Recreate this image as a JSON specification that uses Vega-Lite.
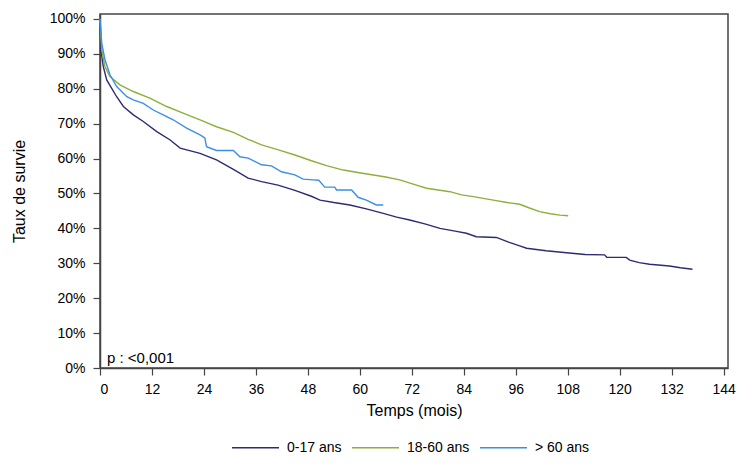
{
  "$schema": "https://vega.github.io/schema/vega-lite/v6.json",
  "width": 628,
  "height": 354,
  "autosize": {"type": "none"},
  "padding": {"left": 100, "top": 14, "right": 17, "bottom": 98},
  "config": {
    "font": "Liberation Sans",
    "view": {"stroke": "#444", "strokeWidth": 1.5},
    "axis": {
      "grid": false,
      "domainColor": "#444",
      "domainWidth": 1.5,
      "tickColor": "#444",
      "tickWidth": 1.2,
      "tickSize": 7,
      "labelFont": "Liberation Sans",
      "labelFontSize": 14,
      "labelOverlap": false,
      "labelColor": "#000",
      "titleFont": "Liberation Sans",
      "titleFontSize": 16,
      "titleFontWeight": "normal",
      "titleColor": "#000"
    }
  },
  "layer": [
    {
      "data": {
        "values": [
          {"t": 0, "s": 100, "g": "0-17 ans"},
          {"t": 0.23, "s": 91.1, "g": "0-17 ans"},
          {"t": 0.76, "s": 86.3, "g": "0-17 ans"},
          {"t": 1.55, "s": 82.5, "g": "0-17 ans"},
          {"t": 2.7, "s": 80.1, "g": "0-17 ans"},
          {"t": 3.85, "s": 77.7, "g": "0-17 ans"},
          {"t": 5.4, "s": 74.9, "g": "0-17 ans"},
          {"t": 7.7, "s": 72.5, "g": "0-17 ans"},
          {"t": 10.0, "s": 70.6, "g": "0-17 ans"},
          {"t": 13.1, "s": 67.7, "g": "0-17 ans"},
          {"t": 16.2, "s": 65.3, "g": "0-17 ans"},
          {"t": 18.5, "s": 63.0, "g": "0-17 ans"},
          {"t": 23.1, "s": 61.5, "g": "0-17 ans"},
          {"t": 26.9, "s": 59.6, "g": "0-17 ans"},
          {"t": 30.8, "s": 56.9, "g": "0-17 ans"},
          {"t": 34.2, "s": 54.4, "g": "0-17 ans"},
          {"t": 37.3, "s": 53.4, "g": "0-17 ans"},
          {"t": 41.1, "s": 52.4, "g": "0-17 ans"},
          {"t": 45.0, "s": 50.9, "g": "0-17 ans"},
          {"t": 48.8, "s": 49.2, "g": "0-17 ans"},
          {"t": 50.8, "s": 48.1, "g": "0-17 ans"},
          {"t": 54.0, "s": 47.4, "g": "0-17 ans"},
          {"t": 57.7, "s": 46.7, "g": "0-17 ans"},
          {"t": 61.5, "s": 45.6, "g": "0-17 ans"},
          {"t": 65.4, "s": 44.3, "g": "0-17 ans"},
          {"t": 68.5, "s": 43.2, "g": "0-17 ans"},
          {"t": 71.5, "s": 42.4, "g": "0-17 ans"},
          {"t": 75.0, "s": 41.3, "g": "0-17 ans"},
          {"t": 78.5, "s": 40.0, "g": "0-17 ans"},
          {"t": 82.0, "s": 39.2, "g": "0-17 ans"},
          {"t": 84.6, "s": 38.6, "g": "0-17 ans"},
          {"t": 86.9, "s": 37.6, "g": "0-17 ans"},
          {"t": 91.5, "s": 37.4, "g": "0-17 ans"},
          {"t": 94.5, "s": 36.0, "g": "0-17 ans"},
          {"t": 96.9, "s": 35.0, "g": "0-17 ans"},
          {"t": 98.5, "s": 34.3, "g": "0-17 ans"},
          {"t": 103.0, "s": 33.6, "g": "0-17 ans"},
          {"t": 107.7, "s": 33.0, "g": "0-17 ans"},
          {"t": 112.0, "s": 32.5, "g": "0-17 ans"},
          {"t": 116.5, "s": 32.4, "g": "0-17 ans"},
          {"t": 117.0, "s": 31.7, "g": "0-17 ans"},
          {"t": 121.5, "s": 31.7, "g": "0-17 ans"},
          {"t": 122.3, "s": 30.9, "g": "0-17 ans"},
          {"t": 124.5, "s": 30.2, "g": "0-17 ans"},
          {"t": 126.9, "s": 29.7, "g": "0-17 ans"},
          {"t": 131.5, "s": 29.2, "g": "0-17 ans"},
          {"t": 134.0, "s": 28.7, "g": "0-17 ans"},
          {"t": 136.8, "s": 28.3, "g": "0-17 ans"},
          {"t": 0, "s": 100, "g": "18-60 ans"},
          {"t": 0.4, "s": 91.1, "g": "18-60 ans"},
          {"t": 1.15, "s": 86.3, "g": "18-60 ans"},
          {"t": 2.3, "s": 83.5, "g": "18-60 ans"},
          {"t": 4.6, "s": 81.1, "g": "18-60 ans"},
          {"t": 7.7, "s": 79.2, "g": "18-60 ans"},
          {"t": 11.5, "s": 77.3, "g": "18-60 ans"},
          {"t": 15.4, "s": 74.9, "g": "18-60 ans"},
          {"t": 19.2, "s": 73.0, "g": "18-60 ans"},
          {"t": 23.1, "s": 71.1, "g": "18-60 ans"},
          {"t": 26.9, "s": 69.1, "g": "18-60 ans"},
          {"t": 30.8, "s": 67.5, "g": "18-60 ans"},
          {"t": 34.2, "s": 65.5, "g": "18-60 ans"},
          {"t": 37.3, "s": 63.9, "g": "18-60 ans"},
          {"t": 41.2, "s": 62.5, "g": "18-60 ans"},
          {"t": 45.0, "s": 61.0, "g": "18-60 ans"},
          {"t": 49.0, "s": 59.3, "g": "18-60 ans"},
          {"t": 52.5, "s": 57.9, "g": "18-60 ans"},
          {"t": 56.2, "s": 56.7, "g": "18-60 ans"},
          {"t": 59.5, "s": 56.0, "g": "18-60 ans"},
          {"t": 63.1, "s": 55.3, "g": "18-60 ans"},
          {"t": 66.0, "s": 54.7, "g": "18-60 ans"},
          {"t": 69.2, "s": 53.9, "g": "18-60 ans"},
          {"t": 72.5, "s": 52.6, "g": "18-60 ans"},
          {"t": 75.4, "s": 51.5, "g": "18-60 ans"},
          {"t": 80.8, "s": 50.5, "g": "18-60 ans"},
          {"t": 83.5, "s": 49.6, "g": "18-60 ans"},
          {"t": 86.2, "s": 49.1, "g": "18-60 ans"},
          {"t": 90.8, "s": 48.1, "g": "18-60 ans"},
          {"t": 94.0, "s": 47.4, "g": "18-60 ans"},
          {"t": 96.9, "s": 46.9, "g": "18-60 ans"},
          {"t": 99.0, "s": 45.9, "g": "18-60 ans"},
          {"t": 101.5, "s": 44.8, "g": "18-60 ans"},
          {"t": 104.0, "s": 44.2, "g": "18-60 ans"},
          {"t": 106.2, "s": 43.8, "g": "18-60 ans"},
          {"t": 108.1, "s": 43.6, "g": "18-60 ans"},
          {"t": 0, "s": 100, "g": "> 60 ans"},
          {"t": 0.4, "s": 93.0, "g": "> 60 ans"},
          {"t": 1.15, "s": 88.3, "g": "> 60 ans"},
          {"t": 2.3, "s": 84.0, "g": "> 60 ans"},
          {"t": 3.85, "s": 80.6, "g": "> 60 ans"},
          {"t": 6.2, "s": 77.7, "g": "> 60 ans"},
          {"t": 7.7, "s": 76.8, "g": "> 60 ans"},
          {"t": 10.0, "s": 75.8, "g": "> 60 ans"},
          {"t": 12.3, "s": 73.9, "g": "> 60 ans"},
          {"t": 14.6, "s": 72.5, "g": "> 60 ans"},
          {"t": 16.9, "s": 71.1, "g": "> 60 ans"},
          {"t": 20.0, "s": 68.7, "g": "> 60 ans"},
          {"t": 23.1, "s": 66.8, "g": "> 60 ans"},
          {"t": 24.2, "s": 65.9, "g": "> 60 ans"},
          {"t": 24.6, "s": 63.4, "g": "> 60 ans"},
          {"t": 26.9, "s": 62.3, "g": "> 60 ans"},
          {"t": 30.8, "s": 62.3, "g": "> 60 ans"},
          {"t": 32.3, "s": 60.5, "g": "> 60 ans"},
          {"t": 34.2, "s": 60.1, "g": "> 60 ans"},
          {"t": 37.3, "s": 58.2, "g": "> 60 ans"},
          {"t": 39.6, "s": 57.9, "g": "> 60 ans"},
          {"t": 41.9, "s": 56.2, "g": "> 60 ans"},
          {"t": 45.0, "s": 55.3, "g": "> 60 ans"},
          {"t": 46.9, "s": 54.1, "g": "> 60 ans"},
          {"t": 49.2, "s": 53.9, "g": "> 60 ans"},
          {"t": 50.5, "s": 53.8, "g": "> 60 ans"},
          {"t": 51.9, "s": 51.8, "g": "> 60 ans"},
          {"t": 54.2, "s": 51.8, "g": "> 60 ans"},
          {"t": 54.6, "s": 51.0, "g": "> 60 ans"},
          {"t": 58.1, "s": 51.0, "g": "> 60 ans"},
          {"t": 59.6, "s": 48.9, "g": "> 60 ans"},
          {"t": 61.5, "s": 48.1, "g": "> 60 ans"},
          {"t": 63.8, "s": 46.7, "g": "> 60 ans"},
          {"t": 65.4, "s": 46.7, "g": "> 60 ans"}
        ]
      },
      "mark": {"type": "line", "interpolate": "linear", "strokeWidth": 1.4},
      "encoding": {
        "x": {
          "field": "t",
          "type": "quantitative",
          "title": "Temps (mois)",
          "scale": {"domain": [0, 145], "nice": false},
          "axis": {"values": [0, 12, 24, 36, 48, 60, 72, 84, 96, 108, 120, 132, 144], "labelPadding": 7, "titlePadding": 6}
        },
        "y": {
          "field": "s",
          "type": "quantitative",
          "title": "Taux de survie",
          "scale": {"domain": [0, 101.4], "nice": false},
          "axis": {"values": [0, 10, 20, 30, 40, 50, 60, 70, 80, 90, 100], "labelExpr": "datum.value + '%'", "labelPadding": 8, "titlePadding": 22}
        },
        "color": {
          "field": "g",
          "type": "nominal",
          "scale": {"domain": ["0-17 ans", "18-60 ans", "> 60 ans"], "range": ["#2d2b73", "#8db03a", "#3b8fe6"]},
          "legend": {
            "title": null,
            "orient": "none",
            "direction": "horizontal",
            "legendX": 131,
            "legendY": 409,
            "symbolType": "stroke",
            "symbolSize": 2209,
            "symbolStrokeWidth": 1.3,
            "labelFont": "Liberation Sans",
            "labelFontSize": 14,
            "labelColor": "#000",
            "labelOffset": 7,
            "columnPadding": 7
          }
        }
      }
    },
    {
      "data": {"values": [{"label": "p : <0,001"}]},
      "mark": {"type": "text", "align": "left", "baseline": "alphabetic", "fontSize": 15, "font": "Liberation Sans", "color": "#000"},
      "encoding": {
        "x": {
          "datum": 1.6,
          "type": "quantitative",
          "title": "Temps (mois)",
          "axis": {"values": [0, 12, 24, 36, 48, 60, 72, 84, 96, 108, 120, 132, 144], "labelPadding": 7, "titlePadding": 6}
        },
        "y": {
          "datum": 1.5,
          "type": "quantitative",
          "title": "Taux de survie",
          "axis": {"values": [0, 10, 20, 30, 40, 50, 60, 70, 80, 90, 100], "labelExpr": "datum.value + '%'", "labelPadding": 8, "titlePadding": 22}
        },
        "text": {"field": "label"}
      }
    }
  ]
}
